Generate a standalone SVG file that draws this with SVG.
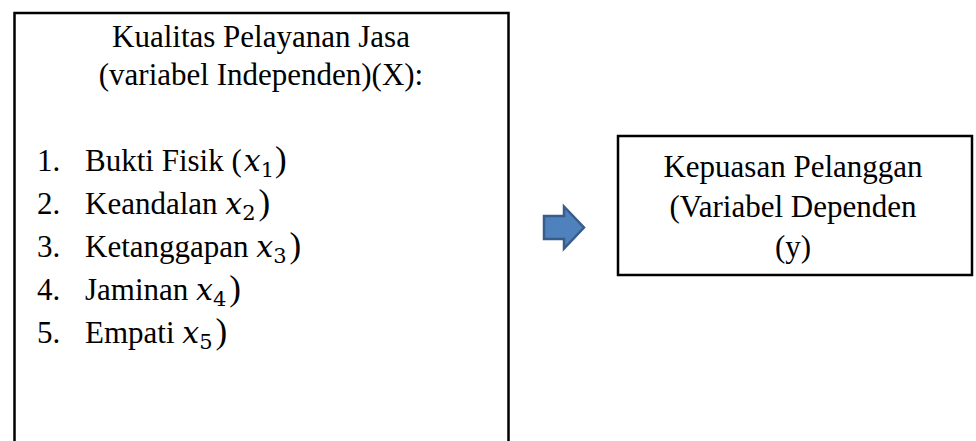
<svg xmlns="http://www.w3.org/2000/svg" width="976" height="441" viewBox="0 0 976 441">
<style>
.box{fill:#fff;stroke:#000;stroke-width:2.5}
.t{font-family:"Liberation Serif","Times New Roman",serif;font-size:31px;fill:#000}
.m{font-family:"DejaVu Serif",serif;font-style:italic;font-size:30px}
.s{font-family:"DejaVu Serif",serif;font-size:21px}
.p{font-size:35px}
.arrow{fill:#4F81BD;stroke:#385D8A;stroke-width:2.5}
</style>
<rect width="976" height="441" fill="#fff"/>
<g id="independen">
<rect class="box" x="14.5" y="13" width="494" height="445"/>
<text class="t" x="261" y="47" text-anchor="middle">Kualitas Pelayanan Jasa</text>
<text class="t" x="261" y="85" text-anchor="middle">(variabel Independen)(X):</text>
<text class="t" x="37" y="171">1.</text>
<text class="t" x="85" y="171">Bukti Fisik (<tspan class="m" dx="2">x</tspan><tspan class="s" dy="6">1</tspan><tspan class="p" dx="1" dy="-6">)</tspan></text>
<text class="t" x="37" y="214">2.</text>
<text class="t" x="85" y="214">Keandalan <tspan class="m">x</tspan><tspan class="s" dy="6">2</tspan><tspan class="p" dx="3" dy="-6">)</tspan></text>
<text class="t" x="37" y="257">3.</text>
<text class="t" x="85" y="257">Ketanggapan <tspan class="m">x</tspan><tspan class="s" dy="6">3</tspan><tspan class="p" dx="3" dy="-6">)</tspan></text>
<text class="t" x="37" y="300">4.</text>
<text class="t" x="85" y="300">Jaminan <tspan class="m">x</tspan><tspan class="s" dy="6">4</tspan><tspan class="p" dx="3" dy="-6">)</tspan></text>
<text class="t" x="37" y="343">5.</text>
<text class="t" x="85" y="343">Empati <tspan class="m">x</tspan><tspan class="s" dy="6">5</tspan><tspan class="p" dx="3" dy="-6">)</tspan></text>
</g>
<g id="connectors">
<polygon class="arrow" points="544,216 564,216 564,206.5 584,227.5 564,248.5 564,239 544,239"/>
</g>
<g id="dependen">
<rect class="box" x="618" y="136" width="354" height="139"/>
<text class="t" x="793" y="177" text-anchor="middle">Kepuasan Pelanggan</text>
<text class="t" x="793" y="217" text-anchor="middle">(Variabel Dependen</text>
<text class="t" x="793" y="257" text-anchor="middle">(y)</text>
</g>
</svg>
